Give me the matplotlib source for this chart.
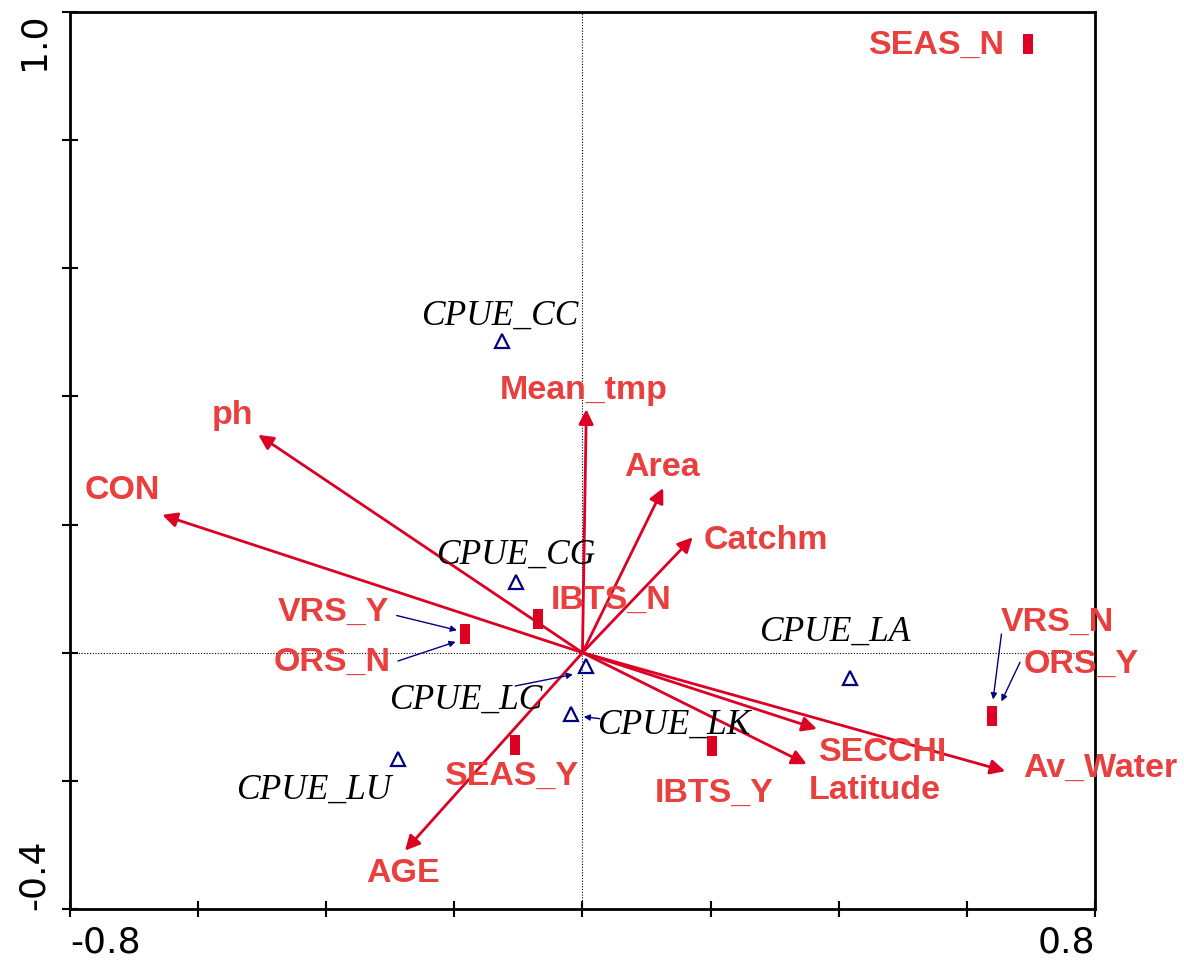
import numpy as np
import matplotlib.pyplot as plt

# environmental variables (arrows)
env_names = ["Mean_tmp", "Area", "Catchm", "ph", "CON", "SECCHI", "Latitude", "Av_Water", "AGE"]
env_x = [0.006, 0.126, 0.172, -0.506, -0.656, 0.366, 0.350, 0.660, -0.277]
env_y = [0.380, 0.257, 0.180, 0.340, 0.215, -0.119, -0.174, -0.185, -0.309]
env_lab_x = [0.002, 0.124, 0.287, -0.546, -0.719, 0.469, 0.456, 0.809, -0.280]
env_lab_y = [0.411, 0.291, 0.177, 0.372, 0.255, -0.154, -0.213, -0.179, -0.343]

# nominal variables (red squares)
nom_x = [0.695, -0.069, -0.183, 0.639, -0.105, 0.202]
nom_y = [0.950, 0.053, 0.029, -0.099, -0.144, -0.146]
nom_names = ["SEAS_N", "IBTS_N", "VRS_Y", "ORS_N", "VRS_N", "ORS_Y", "SEAS_Y", "IBTS_Y"]
nom_lab_x = [0.554, 0.044, -0.388, -0.391, 0.742, 0.778, -0.110, 0.206]
nom_lab_y = [0.950, 0.084, 0.065, -0.013, 0.049, -0.016, -0.191, -0.218]

# species (triangles)
sp_names = ["CPUE_CC", "CPUE_CG", "CPUE_LC", "CPUE_LK", "CPUE_LA", "CPUE_LU"]
sp_x = [-0.125, -0.104, 0.006, -0.018, 0.418, -0.288]
sp_y = [0.486, 0.110, -0.021, -0.096, -0.040, -0.166]
sp_lab_x = [-0.129, -0.104, -0.183, 0.143, 0.393, -0.419]
sp_lab_y = [0.527, 0.154, -0.072, -0.111, 0.034, -0.213]

# leader lines: start point -> end point
lead_x0 = [-0.290, -0.288, 0.654, 0.683, -0.105, 0.027]
lead_y0 = [0.058, -0.013, 0.029, -0.015, -0.052, -0.103]
lead_x1 = [-0.196, -0.198, 0.641, 0.654, -0.015, 0.002]
lead_y1 = [0.035, 0.017, -0.073, -0.076, -0.034, -0.100]

red = "#DD0025"
red_txt = "#E8403F"
navy = "#000080"

fig = plt.figure(figsize=(11.84, 9.62), dpi=100)
ax = fig.add_axes([0.0591, 0.0541, 0.8657, 0.9324])
ax.set_xlim(-0.8, 0.8)
ax.set_ylim(-0.4, 1.0)

ax.axhline(0, color="black", ls=(0, (1, 1.5)), lw=0.8, zorder=1)
ax.axvline(0, color="black", ls=(0, (1, 1.5)), lw=0.8, zorder=1)

for i in range(len(env_names)):
    ax.annotate("", xy=(env_x[i], env_y[i]), xytext=(0, 0),
                arrowprops=dict(arrowstyle="-|>", color=red, lw=2,
                                mutation_scale=22, shrinkA=0, shrinkB=0), zorder=3)
    ax.text(env_lab_x[i], env_lab_y[i], env_names[i], color=red_txt, fontsize=24.5,
            fontweight="bold", family="Liberation Sans", ha="center", va="center",
            clip_on=False, zorder=4)

rect = [(-0.5, -1), (0.5, -1), (0.5, 1), (-0.5, 1), (-0.5, -1)]
ax.plot(nom_x, nom_y, ls="none", marker=rect, markersize=14.5, color=red,
        markeredgewidth=0, zorder=4)
for i in range(len(nom_names)):
    ax.text(nom_lab_x[i], nom_lab_y[i], nom_names[i], color=red_txt, fontsize=24.5,
            fontweight="bold", family="Liberation Sans", ha="center", va="center",
            clip_on=False, zorder=4)

ax.plot(sp_x, sp_y, ls="none", marker="^", markersize=10, markerfacecolor="none",
        markeredgecolor=navy, markeredgewidth=1.6, zorder=5)
for i in range(len(sp_names)):
    ax.text(sp_lab_x[i], sp_lab_y[i], sp_names[i], color="black", fontsize=25.5,
            style="italic", family="Liberation Serif", ha="center", va="center", zorder=4)

for i in range(len(lead_x0)):
    ax.annotate("", xy=(lead_x1[i], lead_y1[i]), xytext=(lead_x0[i], lead_y0[i]),
                arrowprops=dict(arrowstyle="-|>", color=navy, lw=1,
                                mutation_scale=9, shrinkA=0, shrinkB=0), zorder=5)

xt = np.arange(-0.8, 0.81, 0.2)
yt = np.arange(-0.4, 1.01, 0.2)
ax.set_xticks(xt)
ax.set_yticks(yt)
ax.set_xticklabels(["-0.8"] + [""] * (len(xt) - 2) + ["0.8"])
ax.set_yticklabels(["-0.4"] + [""] * (len(yt) - 2) + ["1.0"])
ax.tick_params(direction="inout", length=12, width=1.5, labelsize=26)
ax.tick_params(axis="x", pad=5)
ax.tick_params(axis="y", pad=8)
for lab in ax.get_yticklabels():
    lab.set_rotation(90)
    lab.set_va("center")
xl = ax.get_xticklabels()
xl[0].set_ha("left")
xl[-1].set_ha("right")
yl = ax.get_yticklabels()
yl[0].set_va("bottom")
yl[-1].set_va("top")
for s in ax.spines.values():
    s.set_linewidth(2)

fig.savefig("out.png", dpi=100)
